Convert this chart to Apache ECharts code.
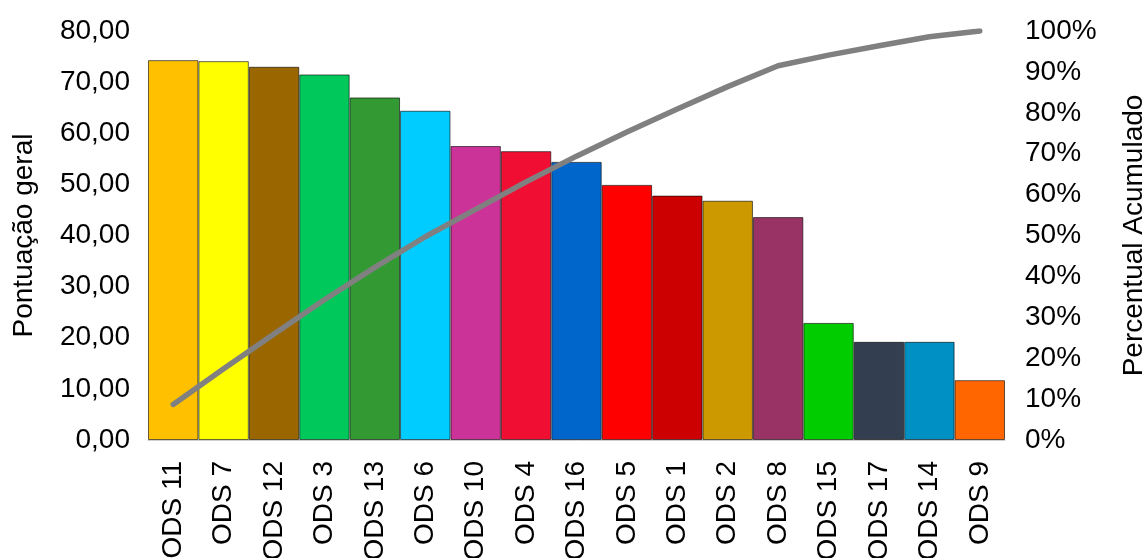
<!DOCTYPE html>
<html>
<head>
<meta charset="utf-8">
<script src="https://cdn.jsdelivr.net/npm/echarts@6/dist/echarts.min.js"></script>
<style>
html,body{margin:0;padding:0;background:#fff;}
#chart{width:1148px;height:558px;}
</style>
</head>
<body>
<div id="chart"></div>
<script>
const categories = ['ODS 11','ODS 7','ODS 12','ODS 3','ODS 13','ODS 6','ODS 10','ODS 4','ODS 16','ODS 5','ODS 1','ODS 2','ODS 8','ODS 15','ODS 17','ODS 14','ODS 9'];
const scores = [74.3, 74.1, 73.0, 71.5, 67.0, 64.4, 57.5, 56.5, 54.4, 49.9, 47.8, 46.8, 43.6, 22.9, 19.2, 19.2, 11.7];
const cumulativePct = [8.7, 17.4, 25.9, 34.3, 42.2, 49.7, 56.4, 63.1, 69.4, 75.3, 80.9, 86.4, 91.5, 94.1, 96.4, 98.6, 100];
const barColors = ['#FFC000','#FFFF00','#996600','#00C85A','#339933','#00CCFF','#CC3399','#F00F33','#0066CC','#FF0000','#CC0000','#CC9900','#993366','#00CC00','#333F50','#0090C4','#FF6600'];
const leftTicks = ['0,00','10,00','20,00','30,00','40,00','50,00','60,00','70,00','80,00'];

const FONT = '"Liberation Sans", Arial, sans-serif';
const chart = echarts.init(document.getElementById('chart'));
chart.setOption({
  animation: false,
  textStyle: {fontFamily: FONT},
  grid: {left: 148, right: 143, top: 31, bottom: 118, containLabel: false, outerBoundsMode: 'none'},
  xAxis: {
    type: 'category',
    data: categories,
    axisLine: {show: true, lineStyle: {color: '#d0d0d0', width: 1}},
    axisTick: {show: false},
    axisLabel: {rotate: 90, fontSize: 28, color: '#000', margin: 21, fontFamily: FONT}
  },
  yAxis: [{
    type: 'value', min: 0, max: 80, interval: 10,
    name: 'Pontuação geral', nameLocation: 'middle', nameRotate: 90, nameGap: 110,
    nameTextStyle: {fontSize: 28, color: '#000', fontFamily: FONT},
    axisLine: {show: false}, axisTick: {show: false}, splitLine: {show: false},
    axisLabel: {fontSize: 28, color: '#000', margin: 18, fontFamily: FONT,
      formatter: v => leftTicks[Math.round(v / 10)]}
  }, {
    type: 'value', min: 0, max: 100, interval: 10, position: 'right',
    name: 'Percentual Acumulado', nameLocation: 'middle', nameRotate: 90, nameGap: 115,
    nameTextStyle: {fontSize: 28, color: '#000', fontFamily: FONT},
    axisLine: {show: false}, axisTick: {show: false}, splitLine: {show: false},
    axisLabel: {fontSize: 28, color: '#000', margin: 20, fontFamily: FONT, formatter: '{value}%'}
  }],
  series: [{
    type: 'bar',
    data: scores.map((v, i) => ({value: v, itemStyle: {color: barColors[i]}})),
    barCategoryGap: 0,
    itemStyle: {borderColor: 'rgba(0,0,0,0.6)', borderWidth: 1}
  }, {
    type: 'line',
    yAxisIndex: 1,
    data: cumulativePct,
    showSymbol: false,
    symbol: 'none',
    lineStyle: {color: '#808080', width: 5.5, cap: 'round', join: 'round'},
    z: 5
  }]
});
</script>
</body>
</html>
